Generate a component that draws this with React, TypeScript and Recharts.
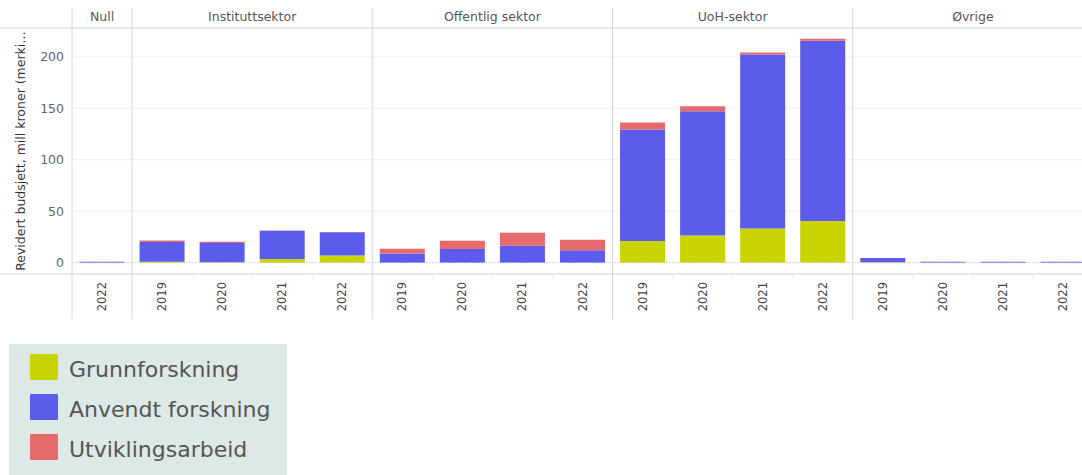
import React from 'react';
import { BarChart, Bar, XAxis, YAxis, CartesianGrid, ReferenceLine } from 'recharts';

const sectors = ['Null', 'Instituttsektor', 'Offentlig sektor', 'UoH-sektor', 'Øvrige'];
const sectorYears = [
  ['2022'],
  ['2019', '2020', '2021', '2022'],
  ['2019', '2020', '2021', '2022'],
  ['2019', '2020', '2021', '2022'],
  ['2019', '2020', '2021', '2022'],
];

// one value per slot, in the order of sectors/years above
const grunnforskning = [0, 1, 0.5, 3.5, 7, 0, 0, 0, 0, 21, 26.5, 33.3, 40.5, 0.5, 0, 0, 0];
const anvendtForskning = [1, 19, 18.5, 27.5, 22.5, 9, 13.3, 16.8, 12, 108.5, 120.6, 169, 175, 4, 0.8, 0.8, 0.8];
const utviklingsarbeid = [0, 1.5, 1.3, 0.3, 0.3, 4.5, 8, 12.3, 10.3, 6.8, 4.9, 2, 2, 0, 0, 0, 0];

const yTicks = [0, 50, 100, 150, 200];
const seriesKeys = ['g', 'a', 'u'];
const seriesNames = ['Grunnforskning', 'Anvendt forskning', 'Utviklingsarbeid'];
const seriesColors = ['#c9d400', '#5c5cec', '#e66a6a'];
const yTitle = 'Revidert budsjett, mill kroner (merki…';

const FONT = '"DejaVu Sans", sans-serif';
const SEP = '#d6d6d6';

const slots = sectors.flatMap((sector, i) =>
  sectorYears[i].map((year, j) => ({
    key: `${sector}|${year}`,
    sector,
    year,
    first: j === 0,
    count: sectorYears[i].length,
  }))
);
const slotInfo: Record<string, (typeof slots)[number]> = Object.fromEntries(slots.map((s) => [s.key, s]));
const panelStarts = slots.filter((s) => s.first).map((s) => s.key);

const data = slots.map((s, i) => ({
  key: s.key,
  g: grunnforskning[i],
  a: anvendtForskning[i],
  u: utviklingsarbeid[i],
}));

const HeaderTick = (props: any) => {
  const { x, y, payload } = props;
  const info = slotInfo[payload.value];
  if (!info || !info.first) return <g />;
  const half = payload.offset ?? 30;
  const left = x - half;
  return (
    <g>
      <line x1={left} x2={left} y1={y - 20} y2={y} stroke={SEP} />
      {info.key === slots[0].key && <line x1={0} x2={left} y1={y} y2={y} stroke={SEP} />}
      <text
        x={x + (info.count - 1) * half}
        y={y - 7}
        textAnchor="middle"
        fill="#555"
        fontSize={12.5}
        fontFamily={FONT}
      >
        {info.sector}
      </text>
    </g>
  );
};

const YearTick = (props: any) => {
  const { x, y, payload } = props;
  const info = slotInfo[payload.value];
  if (!info) return <g />;
  const half = payload.offset ?? 30;
  const left = x - half;
  const tx = x + 4;
  const ty = y + 8;
  return (
    <g>
      {info.first ? (
        <line x1={left} x2={left} y1={y} y2={y + 45} stroke={SEP} />
      ) : (
        <line x1={left} x2={left} y1={y} y2={y + 5} stroke="#ececec" />
      )}
      {info.key === slots[0].key && <line x1={0} x2={left} y1={y} y2={y} stroke={SEP} />}
      <text
        x={tx}
        y={ty}
        transform={`rotate(-90, ${tx}, ${ty})`}
        textAnchor="end"
        fill="#444"
        fontSize={11.5}
        fontFamily={FONT}
      >
        {info.year}
      </text>
    </g>
  );
};

const renderYTitle = (props: any) => {
  const vb = props.viewBox ?? { x: 0, y: 28, width: 72, height: 246 };
  const tx = vb.x + 25;
  const ty = vb.y + vb.height / 2;
  return (
    <text
      x={tx}
      y={ty}
      transform={`rotate(-90, ${tx}, ${ty})`}
      textAnchor="middle"
      fill="#333"
      fontSize={12.5}
      fontFamily={FONT}
    >
      {yTitle}
    </text>
  );
};

export default function App() {
  return (
    <div
      style={{
        position: 'absolute',
        left: 0,
        top: 0,
        width: 1082,
        height: 475,
        overflow: 'hidden',
        background: '#fff',
      }}
    >
      <BarChart
        width={1093}
        height={319}
        data={data}
        margin={{ top: 8, right: 0, left: 0, bottom: 0 }}
        barCategoryGap="12.5%"
      >
        <CartesianGrid vertical={false} stroke="#f0f0f0" />
        <XAxis
          xAxisId="top"
          orientation="top"
          dataKey="key"
          height={20}
          interval={0}
          tickSize={0}
          tickMargin={0}
          tickLine={false}
          axisLine={{ stroke: SEP }}
          tick={<HeaderTick />}
        />
        <XAxis
          dataKey="key"
          height={45}
          interval={0}
          tickSize={0}
          tickMargin={0}
          tickLine={false}
          axisLine={{ stroke: SEP }}
          tick={<YearTick />}
        />
        <YAxis
          domain={[-11, 228]}
          ticks={yTicks}
          allowDataOverflow
          width={72}
          tickLine={false}
          axisLine={false}
          tickSize={0}
          tickMargin={8}
          tick={{ fill: '#666', fontSize: 12.5, fontFamily: FONT }}
          label={renderYTitle}
        />
        <ReferenceLine y={0} stroke="#cfcfcf" strokeDasharray="1 2" />
        {panelStarts.map((k) => (
          <ReferenceLine key={k} x={k} position="start" stroke={SEP} />
        ))}
        {seriesKeys.map((k, i) => (
          <Bar
            key={k}
            dataKey={k}
            name={seriesNames[i]}
            stackId="s"
            fill={seriesColors[i]}
            isAnimationActive={false}
          />
        ))}
      </BarChart>
      <div
        style={{
          position: 'absolute',
          left: 9,
          top: 344,
          width: 278,
          height: 131,
          background: '#dde9e6',
        }}
      >
        {seriesNames.map((name, i) => (
          <div
            key={name}
            style={{
              position: 'absolute',
              left: 21,
              top: 10 + i * 40,
              height: 26,
              display: 'flex',
              alignItems: 'center',
            }}
          >
            <div style={{ width: 28, height: 26, background: seriesColors[i], borderRadius: 1 }} />
            <span
              style={{
                marginLeft: 11,
                marginTop: 4,
                fontFamily: FONT,
                fontSize: 22,
                color: '#555',
                whiteSpace: 'nowrap',
              }}
            >
              {name}
            </span>
          </div>
        ))}
      </div>
    </div>
  );
}
